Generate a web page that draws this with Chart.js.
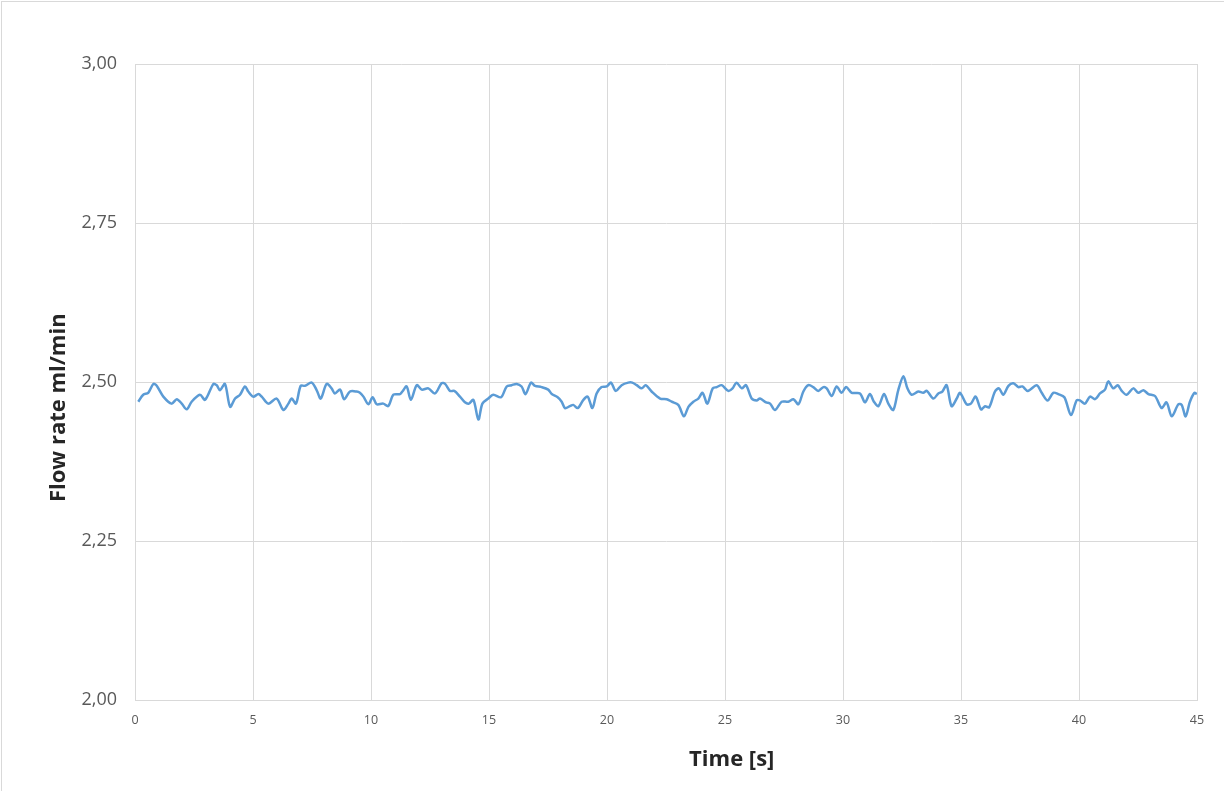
<!DOCTYPE html>
<html>
<head>
<meta charset="utf-8">
<script src="https://cdn.jsdelivr.net/npm/chart.js@4.4.1/dist/chart.umd.min.js"></script>
<style>
  html, body { margin: 0; padding: 0; background: #fff; }
  #wrap { position: relative; width: 1224px; height: 791px; }
  #frame { position: absolute; left: 1px; top: 1px; right: 0; bottom: 0;
           border-top: 1px solid #d9d9d9; border-left: 1px solid #d9d9d9; pointer-events: none; }
  canvas { position: absolute; left: 0; top: 0; }
</style>
</head>
<body>
<div id="wrap">
  <div id="frame"></div>
  <canvas id="flow-chart" width="1224" height="791"></canvas>
</div>
<script>
// values
const timeSec = [
  0.14, 0.35, 0.56, 0.78, 0.92, 1.20, 1.55, 1.77, 1.98, 2.19, 2.40, 2.75, 2.97, 3.32, 3.46, 3.60, 3.81,
  4.03, 4.24, 4.45, 4.66, 4.80, 5.01, 5.23, 5.37, 5.65, 6.00, 6.29, 6.50, 6.64, 6.82, 7.02, 7.20, 7.49,
  7.70, 7.87, 8.12, 8.33, 8.47, 8.69, 8.86, 9.11, 9.39, 9.53, 9.68, 9.89, 10.07, 10.24, 10.52, 10.73, 10.95,
  11.23, 11.33, 11.51, 11.69, 11.94, 12.15, 12.43, 12.71, 12.99, 13.14, 13.35, 13.53, 13.77, 13.98, 14.15,
  14.34, 14.55, 14.72, 14.97, 15.18, 15.51, 15.75, 15.96, 16.17, 16.38, 16.55, 16.78, 16.95, 17.23, 17.51,
  17.66, 17.91, 18.08, 18.22, 18.43, 18.57, 18.76, 19.00, 19.18, 19.38, 19.56, 19.77, 19.99, 20.17, 20.37,
  20.62, 20.90, 21.07, 21.26, 21.47, 21.64, 21.89,
  22.25, 22.53, 22.74, 23.02, 23.26, 23.45, 23.66, 23.87, 24.05, 24.25, 24.48, 24.65, 24.86, 25.14, 25.32,
  25.49, 25.71, 25.89, 26.13, 26.34, 26.48, 26.74, 26.91, 27.12, 27.40, 27.68, 27.90, 28.11, 28.32, 28.53,
  28.74, 28.95, 29.17, 29.31, 29.52, 29.73, 29.94, 30.13, 30.37, 30.72, 30.93, 31.14, 31.31, 31.50, 31.74,
  31.92, 32.13, 32.34, 32.56, 32.73, 32.91, 33.19, 33.40, 33.55,
  33.83, 34.04, 34.21, 34.39, 34.60, 34.82, 34.96, 35.24, 35.42, 35.62, 35.85, 36.02, 36.19, 36.44, 36.61,
  36.79, 37.01, 37.22, 37.43, 37.60, 37.83, 38.21, 38.42, 38.67, 38.91, 39.12, 39.38, 39.66, 39.90, 40.04,
  40.25, 40.47, 40.68, 40.89, 41.10, 41.24, 41.45, 41.64, 41.81, 42.02, 42.30, 42.51, 42.73, 42.94, 43.22,
  43.50, 43.71, 43.93, 44.21, 44.35, 44.52, 44.70, 44.89, 44.99
];
const flowRate = [
  2.469, 2.480, 2.483, 2.497, 2.494, 2.477, 2.466, 2.473, 2.466, 2.457, 2.469, 2.480, 2.472, 2.497, 2.495, 2.487, 2.497,
  2.461, 2.474, 2.480, 2.493, 2.485, 2.477, 2.481, 2.477, 2.466, 2.474, 2.456, 2.466, 2.474, 2.466, 2.494, 2.494, 2.499,
  2.487, 2.474, 2.497, 2.490, 2.482, 2.488, 2.473, 2.485, 2.485, 2.483, 2.477, 2.465, 2.476, 2.465, 2.466, 2.462, 2.480,
  2.481, 2.485, 2.493, 2.472, 2.495, 2.488, 2.490, 2.482, 2.498, 2.497, 2.486, 2.486, 2.477, 2.468, 2.466,
  2.472, 2.441, 2.466, 2.474, 2.480, 2.476, 2.493, 2.495, 2.497, 2.493, 2.481, 2.499, 2.494, 2.492, 2.488,
  2.481, 2.476, 2.469, 2.459, 2.462, 2.464, 2.459, 2.472, 2.477, 2.459, 2.482, 2.492, 2.493, 2.499, 2.486,
  2.495, 2.499, 2.499, 2.495, 2.490, 2.495, 2.485,
  2.474, 2.473, 2.469, 2.464, 2.446, 2.461, 2.469, 2.474, 2.483, 2.466, 2.490, 2.492, 2.495, 2.486, 2.490,
  2.499, 2.490, 2.495, 2.474, 2.471, 2.474, 2.468, 2.466, 2.456, 2.469, 2.469, 2.473, 2.465, 2.485, 2.495,
  2.492, 2.486, 2.492, 2.490, 2.478, 2.493, 2.483, 2.492, 2.483, 2.482, 2.468, 2.481, 2.469, 2.462, 2.481,
  2.466, 2.456, 2.487, 2.509, 2.490, 2.480, 2.485, 2.483, 2.486,
  2.474, 2.482, 2.485, 2.495, 2.462, 2.474, 2.483, 2.465, 2.466, 2.477, 2.457, 2.462, 2.460, 2.485, 2.490,
  2.480, 2.494, 2.498, 2.492, 2.493, 2.486, 2.495, 2.483, 2.471, 2.483, 2.481, 2.476, 2.448, 2.471, 2.471,
  2.466, 2.477, 2.473, 2.482, 2.488, 2.501, 2.490, 2.495, 2.486, 2.480, 2.490, 2.483, 2.487, 2.481, 2.478,
  2.459, 2.468, 2.446, 2.465, 2.464, 2.446, 2.469, 2.483, 2.481
];
const xTitle = 'Time [s]';
const yTitle = 'Flow rate ml/min';

const gridColor = '#d9d9d9';
const tickColor = '#595959';

const points = timeSec.map((t, i) => ({ x: t, y: flowRate[i] }));

const ctx = document.getElementById('flow-chart').getContext('2d');
new Chart(ctx, {
    type: 'line',
    data: {
        datasets: [{
            data: points,
            borderColor: '#5b9bd5',
            borderWidth: 2.5,
            pointRadius: 0,
            tension: 0.3,
            fill: false
        }]
    },
    options: {
        responsive: false,
        animation: false,
        layout: { padding: { top: 64, right: 27, left: 0, bottom: 0 } },
        plugins: {
            legend: { display: false },
            tooltip: { enabled: false }
        },
        scales: {
            x: {
                type: 'linear',
                min: 0,
                max: 45,
                afterFit: (scale) => { scale.height = 91; },
                grid: { color: gridColor, drawTicks: false },
                border: { color: gridColor },
                ticks: {
                    stepSize: 5,
                    padding: 13,
                    color: tickColor,
                    font: { family: 'Open Sans', size: 12.5 }
                },
                title: {
                    display: true,
                    // leading spaces move the label right of the axis centre, as in the picture
                    text: '\u00a0'.repeat(23) + xTitle,
                    color: '#262626',
                    font: { family: 'Open Sans', size: 22, weight: 'bold' },
                    padding: { top: 0, bottom: 18 }
                }
            },
            y: {
                min: 2,
                max: 3,
                afterFit: (scale) => { scale.width = 135; },
                grid: { color: gridColor, drawTicks: false },
                border: { color: gridColor },
                ticks: {
                    stepSize: 0.25,
                    padding: 18,
                    color: tickColor,
                    font: { family: 'Open Sans', size: 18 },
                    callback: (v) => v.toFixed(2).replace('.', ',')
                },
                title: {
                    display: true,
                    // trailing spaces push the label below the axis centre, as in the picture
                    text: yTitle + '\u00a0'.repeat(9),
                    color: '#262626',
                    font: { family: 'Open Sans', size: 22, weight: 'bold' },
                    padding: { top: 46, bottom: 0 }
                }
            }
        }
    }
});
</script>
</body>
</html>
